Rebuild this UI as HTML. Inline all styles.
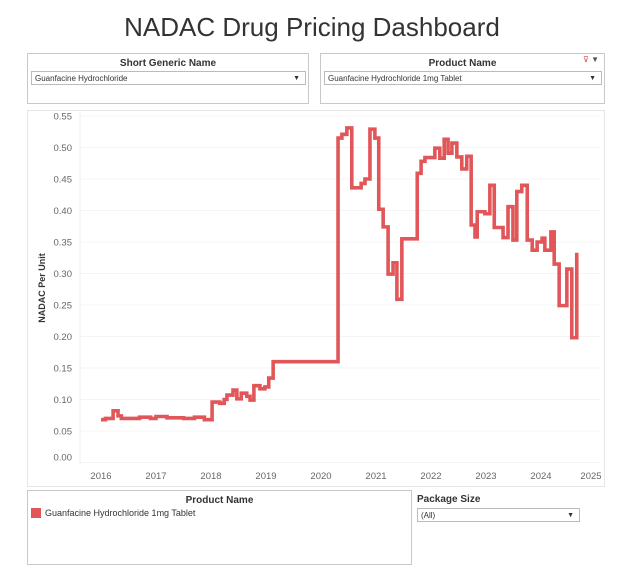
<!DOCTYPE html>
<html><head><meta charset="utf-8"><style>
body{margin:0;background:#fff;font-family:"Liberation Sans",sans-serif;width:624px;height:568px;position:relative;overflow:hidden}
.abs{position:absolute}
.box{position:absolute;border:1px solid #c8c8c8;background:#fff}
.hdr{font-size:10px;font-weight:bold;color:#333;text-align:center}
.dd{position:absolute;border:1px solid #bbb;height:14px;font-size:8px;color:#333;line-height:14px;padding-left:3px;box-sizing:border-box}
.dd span{position:absolute;right:5px;top:0;font-size:7px}
</style></head><body>
<div class="abs" style="left:0;width:624px;top:12px;text-align:center;font-size:26px;color:#333">NADAC Drug Pricing Dashboard</div>

<div class="box" style="left:27px;top:53px;width:280px;height:49px">
 <div class="hdr" style="margin-top:4px">Short Generic Name</div>
 <div class="dd" style="left:3px;top:17px;width:275px">Guanfacine Hydrochloride<span>▼</span></div>
</div>
<div class="box" style="left:320px;top:53px;width:283px;height:49px">
 <div class="hdr" style="margin-top:4px">Product Name</div>
 <div class="abs" style="right:5px;top:1px;font-size:8px;color:#c44">⊽ <span style="color:#555">▼</span></div>
 <div class="dd" style="left:3px;top:17px;width:278px">Guanfacine Hydrochloride 1mg Tablet<span>▼</span></div>
</div>

<div class="box" style="left:27px;top:110px;width:576px;height:375px;border-color:#e6e6e6"></div>
<svg class="abs" style="left:0;top:0" width="624" height="568">
<g id="grid"></g><g id="yt"></g><g id="xt"></g><path id="line" fill="none" stroke="#e15759" stroke-width="3.6" stroke-linejoin="miter"/>
<text transform="translate(45,288) rotate(-90)" text-anchor="middle" font-size="9" font-weight="bold" fill="#333">NADAC Per Unit</text>
</svg>

<div class="box" style="left:27px;top:490px;width:383px;height:73px">
 <div class="hdr" style="margin-top:4px">Product Name</div>
 <div class="abs" style="left:3px;top:17px;font-size:9px;color:#333;white-space:nowrap"><span style="display:inline-block;width:10px;height:10px;background:#e15759;vertical-align:-2px;margin-right:4px"></span>Guanfacine Hydrochloride 1mg Tablet</div>
</div>
<div class="abs hdr" style="left:417px;top:494px;text-align:left">Package Size</div>
<div class="dd" style="left:417px;top:508px;width:163px">(All)<span>▼</span></div>

<script>
const yTicks=[0,0.05,0.10,0.15,0.20,0.25,0.30,0.35,0.40,0.45,0.50,0.55];
const xTicks=[2016,2017,2018,2019,2020,2021,2022,2023,2024,2025];
const dates=[2016.0,2016.08,2016.22,2016.31,2016.37,2016.7,2016.9,2017.0,2017.2,2017.5,2017.7,2017.88,2018.02,2018.16,2018.24,2018.29,2018.40,2018.47,2018.55,2018.65,2018.71,2018.78,2018.89,2018.98,2019.05,2019.13,
2020.31,2020.38,2020.47,2020.56,2020.73,2020.80,2020.89,2020.98,2021.05,2021.13,2021.22,2021.31,2021.38,2021.47,2021.75,2021.82,2021.89,2022.07,2022.16,2022.24,2022.31,2022.38,2022.47,2022.56,2022.65,2022.73,2022.80,2022.84,2022.98,2023.07,2023.15,2023.31,2023.40,2023.49,2023.56,2023.65,2023.75,2023.84,2023.93,2024.02,2024.07,2024.18,2024.24,2024.33,2024.47,2024.56,2024.65];
const values=[0.068,0.07,0.082,0.074,0.070,0.072,0.070,0.073,0.071,0.070,0.072,0.068,0.096,0.094,0.100,0.107,0.115,0.101,0.110,0.105,0.099,0.122,0.117,0.120,0.134,0.160,
0.515,0.521,0.531,0.436,0.443,0.450,0.529,0.515,0.402,0.374,0.299,0.317,0.259,0.355,0.459,0.478,0.484,0.499,0.483,0.513,0.491,0.507,0.485,0.466,0.486,0.377,0.358,0.398,0.395,0.440,0.373,0.357,0.406,0.353,0.430,0.440,0.353,0.337,0.350,0.356,0.337,0.366,0.315,0.249,0.307,0.198,0.333];
const X=t=>101+55*(t-2016), Y=v=>462.5-v*630;
const ns="http://www.w3.org/2000/svg";
function mk(tag,parent,attrs){const e=document.createElementNS(ns,tag);for(const k in attrs)e.setAttribute(k,attrs[k]);parent.appendChild(e);return e;}
const g=document.getElementById('grid'),yt=document.getElementById('yt'),xt=document.getElementById('xt');
mk('line',g,{x1:80,x2:80,y1:113,y2:465,stroke:'#ececec'});
yTicks.forEach(v=>{
 const l=mk('line',g,{x1:80,x2:600,y1:Y(v),y2:Y(v),stroke:'#f4f4f4'});
 
 
 const t=mk('text',yt,{x:72,y:Math.min(Y(v),457)+3.5,'text-anchor':'end','font-size':'9.5',fill:'#666'});
 t.textContent=v.toFixed(2);
 
 
});
xTicks.forEach(yr=>{
 const t=mk('text',xt,{x:Math.min(X(yr),591),y:479,'text-anchor':'middle','font-size':'9.5',fill:'#666'});
 t.textContent=yr;
 
 
});
let d='M'+X(dates[0])+','+Y(values[0]);
for(let i=1;i<dates.length;i++){d+=' H'+X(dates[i])+' V'+Y(values[i]);}
const p=document.getElementById('line');p.setAttribute('d',d);


</script>
</body></html>
